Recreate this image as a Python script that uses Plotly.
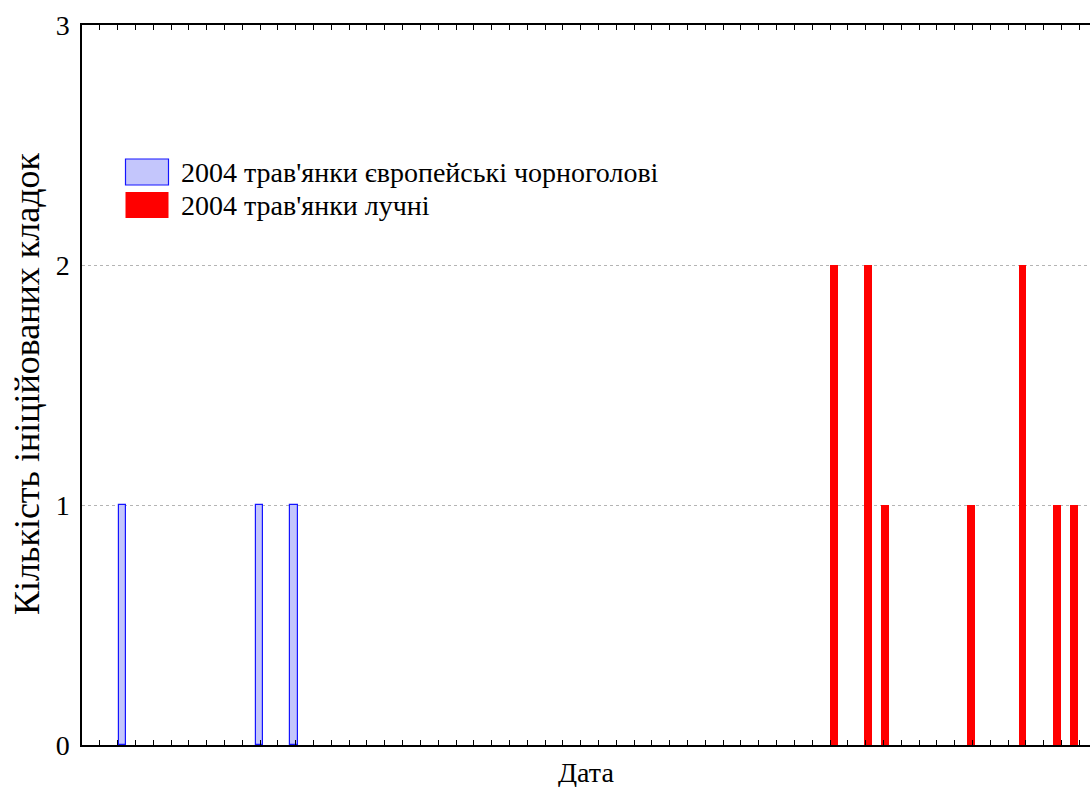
import plotly.graph_objects as go

# Data (day index, counts)
blue_name = "2004 трав'янки європейські чорноголові"
red_name = "2004 трав'янки лучні"
blue_days = [2, 10, 12]
blue_counts = [1, 1, 1]
red_days = [43, 45, 46, 51, 54, 56, 57]
red_counts = [2, 2, 1, 1, 2, 1, 1]
y_ticks = [0, 1, 2, 3]
x_title = "Дата"
y_title = "Кількість ініційованих кладок"

W, H = 1090, 787
L, R, T, B = 82, 0, 25, 42
PW, PH = W - L - R, H - T - B

BLUE_FILL = "rgb(196,198,252)"
BLUE_LINE = "rgb(20,20,255)"
RED = "rgb(255,0,0)"
FONT = "Liberation Serif"

fig = go.Figure()
fig.add_trace(go.Bar(x=blue_days, y=blue_counts, name=blue_name, offset=-0.43, width=0.43,
                     marker=dict(color=BLUE_FILL, line=dict(color=BLUE_LINE, width=1.2)),
                     showlegend=False))
fig.add_trace(go.Bar(x=red_days, y=red_counts, name=red_name, offset=0.0, width=0.46,
                     marker=dict(color=RED, line=dict(color=RED, width=0)),
                     showlegend=False))

def px_x(p):
    return (p - L) / PW

def px_y(p):
    return (T + PH - p) / PH

shapes = []
annotations = []
# manual legend
legend_items = [(blue_name, BLUE_FILL, BLUE_LINE, 159, 185),
                (red_name, RED, RED, 192, 218)]
for name, fill, line, y0, y1 in legend_items:
    shapes.append(dict(type="rect", xref="paper", yref="paper",
                       x0=px_x(125.5), x1=px_x(168.5), y0=px_y(y1), y1=px_y(y0),
                       fillcolor=fill, line=dict(color=line, width=1.2 if fill == BLUE_FILL else 0)))
    annotations.append(dict(text=name, xref="paper", yref="paper", x=px_x(179),
                            y=px_y((y0 + y1) / 2), xanchor="left", yanchor="middle",
                            showarrow=False, font=dict(family=FONT, size=28, color="black")))

annotations.append(dict(text=x_title, xref="paper", yref="paper", x=0.5, y=px_y(772),
                        xanchor="center", yanchor="middle", showarrow=False,
                        font=dict(family=FONT, size=28, color="black")))
annotations.append(dict(text=y_title, xref="paper", yref="paper", x=px_x(27), y=px_y(384),
                        xanchor="center", yanchor="middle", textangle=-90, showarrow=False,
                        font=dict(family=FONT, size=36, color="black")))

fig.update_layout(
    width=W, height=H, margin=dict(l=L, r=R, t=T, b=B, pad=0),
    paper_bgcolor="white", plot_bgcolor="white",
    barmode="overlay", bargap=0,
    shapes=shapes, annotations=annotations,
    font=dict(family=FONT, color="black"),
    xaxis=dict(range=[-0.576, -0.576 + PW / 17.16], showline=False, showticklabels=False,
               ticks="", showgrid=False, zeroline=False),
    xaxis2=dict(overlaying="x", anchor="y", side="bottom", range=[0, PW / 17.81],
                tick0=0, dtick=1, ticks="inside", ticklen=5, tickwidth=1.3, tickcolor="black",
                showticklabels=False, showline=True, linecolor="black", linewidth=1.5,
                mirror="ticks", showgrid=False, zeroline=False),
    yaxis=dict(range=[0, 3], tickvals=y_ticks, ticks="", showline=True, linecolor="black",
               linewidth=1.5, mirror=False, showgrid=True, gridcolor="#b4b4b4", griddash="dot",
               gridwidth=1, zeroline=False, ticklabelstandoff=5,
               tickfont=dict(family=FONT, size=28, color="black")),
)
# invisible trace to activate xaxis2
fig.add_trace(go.Scatter(x=[], y=[], xaxis="x2", yaxis="y", showlegend=False))

fig.write_html("out.html")
